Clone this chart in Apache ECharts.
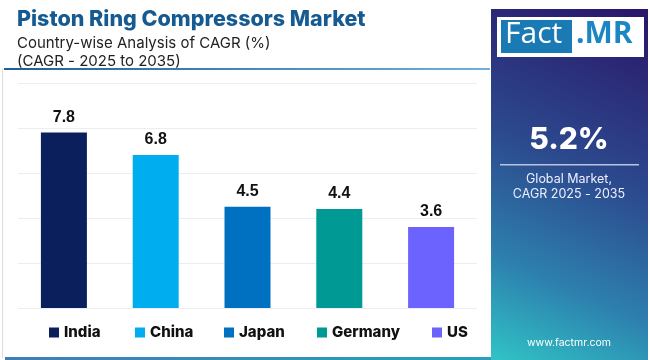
<!DOCTYPE html>
<html>
<head>
<meta charset="utf-8">
<script src="https://cdn.jsdelivr.net/npm/echarts@6/dist/echarts.min.js"></script>
<style>
html,body{margin:0;padding:0;background:#fff;}
#c{width:650px;height:360px;}
</style>
</head>
<body>
<div id="c"></div>
<script>
var categories = ['India', 'China', 'Japan', 'Germany', 'US'];
var values = [7.8, 6.8, 4.5, 4.4, 3.6];
var colors = ['#0b1f5c', '#00aeef', '#0070c0', '#009994', '#6c63ff'];
var yTicks = [0, 2, 4, 6, 8, 10];
var titleText = 'Piston Ring Compressors Market';
var subtitle1 = 'Country-wise Analysis of CAGR (%)';
var subtitle2 = '(CAGR - 2025 to 2035)';
var globalValue = '5.2%';
var globalLabel = 'Global Market,\nCAGR 2025 - 2035';
var siteText = 'www.factmr.com';

var chart = echarts.init(document.getElementById('c'), null, {renderer: 'canvas'});

var series = categories.map(function (name, i) {
  return {
    name: name,
    type: 'bar',
    stack: 'all',
    barWidth: 46,
    itemStyle: {color: colors[i]},
    label: {
      show: true,
      position: 'top',
      distance: 7,
      fontFamily: 'Liberation Sans, Arial, sans-serif',
      fontWeight: 'bold',
      fontSize: 16,
      color: '#111'
    },
    data: categories.map(function (c, j) { return j === i ? values[i] : '-'; })
  };
});

var legendLefts = [49, 135, 224, 317, 432];
var legends = categories.map(function (name, i) {
  return {
    data: [name],
    left: legendLefts[i],
    top: 325,
    padding: 0,
    itemWidth: 10,
    itemHeight: 10,
    itemGap: 6,
    icon: 'rect',
    selectedMode: false,
    textStyle: {fontFamily: 'Inter, Poppins, sans-serif', fontWeight: 800, fontSize: 15, color: '#111'}
  };
});

chart.setOption({
  animation: false,
  backgroundColor: '#fff',
  title: [{
    text: titleText,
    left: 12,
    top: 4,
    textStyle: {fontFamily: 'Inter, sans-serif', fontWeight: 800, fontSize: 21.5, color: '#165a92'}
  }, {
    text: subtitle1 + '\n' + subtitle2,
    left: 12,
    top: 29,
    textStyle: {fontFamily: 'Inter, sans-serif', fontWeight: 'normal', fontSize: 15, color: '#222', lineHeight: 18}
  }],
  legend: legends,
  grid: {left: 18, right: 173, top: 83, bottom: 52},
  xAxis: {
    type: 'category',
    data: categories,
    axisLine: {show: false},
    axisTick: {show: false},
    axisLabel: {show: false}
  },
  yAxis: {
    type: 'value',
    min: yTicks[0],
    max: yTicks[yTicks.length - 1],
    interval: 2,
    axisLabel: {show: false},
    axisLine: {show: false},
    axisTick: {show: false},
    splitLine: {lineStyle: {color: '#ececf2', width: 1}}
  },
  series: series,
  graphic: [
    {type: 'rect', shape: {x: 2, y: 69, width: 1, height: 289}, style: {fill: '#dddddd'}, silent: true},
    {type: 'rect', shape: {x: 4, y: 68, width: 486, height: 2},
      style: {fill: {type: 'linear', x: 0, y: 0, x2: 1, y2: 0, colorStops: [{offset: 0, color: '#1f5f96'}, {offset: 1, color: '#6fb0de'}]}}, silent: true},
    {type: 'rect', shape: {x: 5, y: 357, width: 486, height: 3},
      style: {fill: {type: 'linear', x: 0, y: 0, x2: 1, y2: 0, colorStops: [{offset: 0, color: '#3c7fb8'}, {offset: 1, color: '#2a9fc0'}]}}, silent: true},
    {type: 'rect', shape: {x: 491, y: 9, width: 157, height: 351},
      style: {fill: {type: 'linear', x: 1, y: 0, x2: 0, y2: 1, colorStops: [
        {offset: 0, color: '#2a1568'}, {offset: 0.45, color: '#2c4a8e'}, {offset: 0.75, color: '#2d80ae'}, {offset: 1, color: '#30c4c6'}]}}, silent: true},
    {type: 'rect', shape: {x: 497, y: 17, width: 147, height: 40}, style: {fill: '#ffffff'}, silent: true},
    {type: 'rect', shape: {x: 501, y: 20, width: 71, height: 33}, style: {fill: '#1a7ab3'}, silent: true},
    {type: 'text', left: 505, top: 19, style: {text: 'Fact', fontFamily: 'Open Sans, sans-serif', fontSize: 30, fill: '#fff'}, silent: true},
    {type: 'text', left: 576, top: 19, style: {text: '.MR', fontFamily: 'Open Sans, sans-serif', fontWeight: 'bold', fontSize: 30, fill: '#1a86c4'}, silent: true},
    {type: 'text', x: 569, y: 140, style: {text: globalValue, fontFamily: 'Inter, sans-serif', fontWeight: 800, fontSize: 30, fill: '#fff', align: 'center', verticalAlign: 'middle'}, silent: true},
    {type: 'rect', shape: {x: 500, y: 164, width: 139, height: 1.5}, style: {fill: '#b8c4e0'}, silent: true},
    {type: 'text', x: 569, y: 187, style: {text: globalLabel, fontFamily: 'Inter, sans-serif', fontSize: 12.5, lineHeight: 15, fill: '#eef', align: 'center', verticalAlign: 'middle'}, silent: true},
    {type: 'text', x: 569, y: 343, style: {text: siteText, fontFamily: 'Inter, sans-serif', fontSize: 10.5, fill: '#fff', align: 'center', verticalAlign: 'middle'}, silent: true}
  ]
});
</script>
</body>
</html>
